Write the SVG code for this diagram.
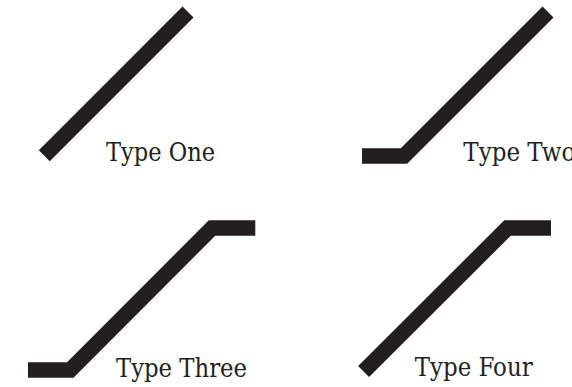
<svg xmlns="http://www.w3.org/2000/svg" width="572" height="387" viewBox="0 0 572 387">
<style>
.bar{fill:none;stroke:#231f20;stroke-width:15.5;stroke-linecap:butt;stroke-linejoin:miter;stroke-miterlimit:10}
.lbl{font-family:"DejaVu Serif Condensed","DejaVu Serif",serif;font-stretch:condensed;font-size:26px;fill:#231f20}
</style>
<rect width="572" height="387" fill="#ffffff"/>
<g id="connectors">
<polyline id="type-one-bar" class="bar" points="44.3,155.7 188,12"/>
<polyline id="type-two-bar" class="bar" points="362,156 404,156 548,12"/>
<polyline id="type-three-bar" class="bar" points="28,370 70.3,370 212,228 255.3,228"/>
<polyline id="type-four-bar" class="bar" points="363.6,371.4 507.5,228 551,228"/>
</g>
<g id="type-one"><text class="lbl" x="106" y="161" textLength="109" lengthAdjust="spacingAndGlyphs">Type One</text></g>
<g id="type-two"><text class="lbl" x="463.3" y="161" textLength="112" lengthAdjust="spacingAndGlyphs">Type Two</text></g>
<g id="type-three"><text class="lbl" x="116" y="376.7" textLength="131" lengthAdjust="spacingAndGlyphs">Type Three</text></g>
<g id="type-four"><text class="lbl" x="414.7" y="376.3" textLength="118" lengthAdjust="spacingAndGlyphs">Type Four</text></g>
</svg>
